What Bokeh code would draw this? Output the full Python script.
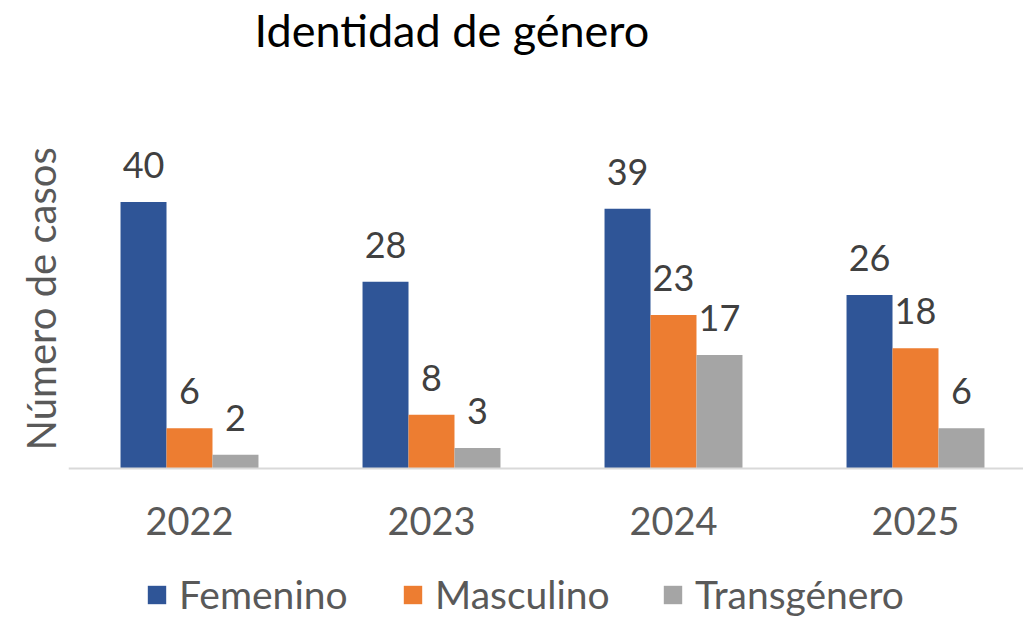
from bokeh.plotting import figure
from bokeh.models import (ColumnDataSource, FixedTicker, Range1d, Legend, LegendItem, Title)
from bokeh.core.properties import value
from bokeh.transform import dodge
from bokeh.embed import file_html
from bokeh.resources import INLINE

years = ["2022", "2023", "2024", "2025"]
femenino = [40, 28, 39, 26]
masculino = [6, 8, 23, 18]
transgenero = [2, 3, 17, 6]
series_names = ["Femenino", "Masculino", "Transgénero"]
colors = ["#2F5597", "#ED7D31", "#A5A5A5"]

FONT = "Lato"
xpos = list(range(len(years)))
src = ColumnDataSource(dict(
    x=xpos, fem=femenino, mas=masculino, tra=transgenero,
    fem_t=[str(v) for v in femenino], mas_t=[str(v) for v in masculino],
    tra_t=[str(v) for v in transgenero],
))

W, H = 1023, 617
LEFT, TOP = 68, 54
BASE = 467          # pixel row of the zero line
PX_PER_UNIT = 6.675
PX_PER_CAT = 242

p = figure(width=W, height=H, output_backend="svg", toolbar_location=None,
           x_range=Range1d(-0.5, -0.5 + (W - LEFT) / PX_PER_CAT),
           y_range=Range1d(-(H - BASE) / PX_PER_UNIT, (BASE - TOP) / PX_PER_UNIT),
           min_border_left=LEFT, min_border_right=0, min_border_bottom=0,
           min_border_top=TOP)
p.outline_line_color = None
p.grid.grid_line_color = None

p.title.text = "Identidad de género"
p.title.text_font = FONT
p.title.text_font_size = "45px"
p.title.text_font_style = "normal"
p.title.text_color = "#000000"
p.title.align = "left"
p.title.offset = 186
p.title.standoff = 0

w = 0.19
cols = ["fem", "mas", "tra"]
offs = [-w, 0.0, w]
renderers = []
for c, o, col in zip(cols, offs, colors):
    r = p.vbar(x=dodge("x", o), top=c, width=w, bottom=0, source=src,
               fill_color=col, line_color=None)
    renderers.append(r)
    p.text(x=dodge("x", o), y=c, text=c + "_t", source=src,
           text_align="center", text_baseline="alphabetic", y_offset=-37,
           text_font=value(FONT), text_font_size="36px", text_color="#404040")

p.xaxis.fixed_location = 0
p.xaxis.ticker = FixedTicker(ticks=xpos)
p.xaxis.major_label_overrides = {i: y for i, y in zip(xpos, years)}
p.xaxis.major_tick_line_color = None
p.xaxis.minor_tick_line_color = None
p.xaxis.axis_line_color = "#D9D9D9"
p.xaxis.axis_line_width = 2
p.xaxis.major_label_text_font = FONT
p.xaxis.major_label_text_font_size = "38px"
p.xaxis.major_label_text_color = "#595959"
p.xaxis.major_label_standoff = 33

p.yaxis.visible = False
ylab = Title(text="Número de casos", text_font=FONT, text_font_size="40px",
             text_font_style="normal", text_color="#595959",
             align="left", offset=H - 450, standoff=8)
p.add_layout(ylab, "left")

legend_x = [77, 333, 593]
for name, r, lx in zip(series_names, renderers, legend_x):
    lg = Legend(items=[LegendItem(label=name, renderers=[r])],
                location=(lx, 0), orientation="horizontal",
                glyph_width=23, glyph_height=23, label_standoff=11,
                label_text_font=FONT, label_text_font_size="39px",
                label_text_color="#595959", padding=0, margin=0,
                border_line_color=None, background_fill_alpha=0)
    p.add_layout(lg, "center")

open("out.html", "w").write(file_html(p, INLINE))
